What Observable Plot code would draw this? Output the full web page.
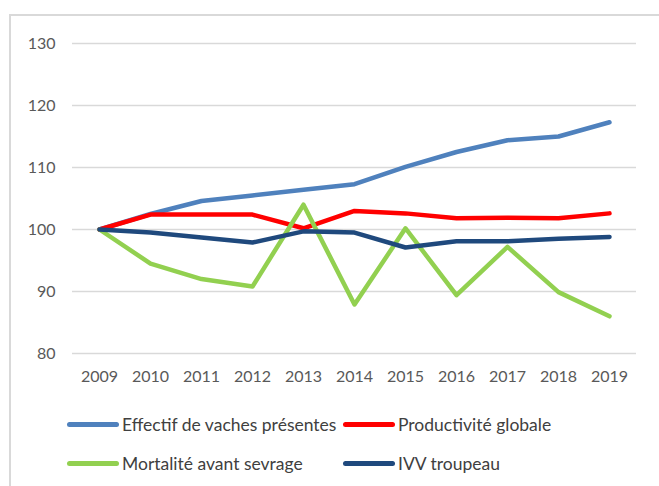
<!DOCTYPE html>
<html>
<head>
<meta charset="utf-8">
<script src="https://cdn.jsdelivr.net/npm/d3@7"></script>
<script src="https://cdn.jsdelivr.net/npm/@observablehq/plot@0.6"></script>
<style>
  html, body { margin: 0; padding: 0; background: #fff; }
  #wrap { position: relative; width: 659px; height: 486px; overflow: hidden; font-family: Lato, "Open Sans", sans-serif; }
  #frame { position: absolute; left: 9px; top: 14px; width: 700px; height: 500px; border-left: 2px solid #d9d9d9; border-top: 2px solid #d9d9d9; box-sizing: border-box; }
  #chart { position: absolute; left: 0; top: 0; }
  .leg { position: absolute; display: flex; align-items: center; font-size: 17.5px; color: #404040; white-space: nowrap; }
  .sw { width: 52px; height: 5px; border-radius: 3px; margin-right: 3px; }
</style>
</head>
<body>
<div id="wrap">
  <div id="frame"></div>
  <div id="chart"></div>
  <div id="legend"></div>
</div>
<script>
const years = [2009, 2010, 2011, 2012, 2013, 2014, 2015, 2016, 2017, 2018, 2019];
const seriesNames = ["Effectif de vaches présentes", "Productivité globale", "Mortalité avant sevrage", "IVV troupeau"];
const seriesColors = ["#4f81bd", "#ff0000", "#92d050", "#1f497d"];
const effectif = [100, 102.5, 104.6, 105.5, 106.4, 107.3, 110.1, 112.5, 114.4, 115.0, 117.3];
const productivite = [100, 102.4, 102.4, 102.4, 100.2, 103.0, 102.6, 101.8, 101.9, 101.8, 102.6];
const mortalite = [100, 94.5, 92.0, 90.8, 104.0, 87.9, 100.2, 89.4, 97.2, 89.9, 86.0];
const ivv = [100, 99.5, 98.7, 97.9, 99.7, 99.5, 97.1, 98.1, 98.1, 98.5, 98.8];
const yTicks = [80, 90, 100, 110, 120, 130];

const allValues = [effectif, productivite, mortalite, ivv];
const data = [];
allValues.forEach((vals, i) => {
  vals.forEach((v, j) => data.push({ year: years[j], value: v, series: seriesNames[i] }));
});

const textColor = "#595959";
const plot = Plot.plot({
  width: 659,
  height: 400,
  marginTop: 43,
  marginBottom: 47,
  marginLeft: 72,
  marginRight: 23,
  style: { fontFamily: "Lato, 'Open Sans', sans-serif", fontSize: "16px", color: textColor, background: "transparent" },
  x: { type: "point", domain: years, padding: 0.5, label: null },
  y: { domain: [80, 130], ticks: yTicks, label: null },
  marks: [
    Plot.gridY(yTicks, { stroke: "#d9d9d9", strokeOpacity: 1, strokeWidth: 1.5 }),
    Plot.axisY(yTicks, { tickSize: 0, tickPadding: 17, fontSize: 16, fill: textColor }),
    Plot.axisX(years, { tickSize: 0, tickPadding: 17, fontSize: 16, fill: textColor, tickFormat: d => String(d) }),
    ...seriesNames.map((name, i) =>
      Plot.line(data.filter(d => d.series === name), {
        x: "year", y: "value", stroke: seriesColors[i], strokeWidth: 4.5,
        strokeLinejoin: "round", strokeLinecap: "round"
      })
    )
  ]
});
document.getElementById("chart").appendChild(plot);

const legendPos = [
  { left: 67, top: 424 },
  { left: 343, top: 424 },
  { left: 67, top: 463 },
  { left: 343, top: 463 }
];
const legend = document.getElementById("legend");
seriesNames.forEach((name, i) => {
  const item = document.createElement("div");
  item.className = "leg";
  item.style.left = legendPos[i].left + "px";
  item.style.top = (legendPos[i].top - 11) + "px";
  item.style.height = "22px";
  const sw = document.createElement("div");
  sw.className = "sw";
  sw.style.background = seriesColors[i];
  const tx = document.createElement("span");
  tx.textContent = name;
  item.appendChild(sw);
  item.appendChild(tx);
  legend.appendChild(item);
});
</script>
</body>
</html>
